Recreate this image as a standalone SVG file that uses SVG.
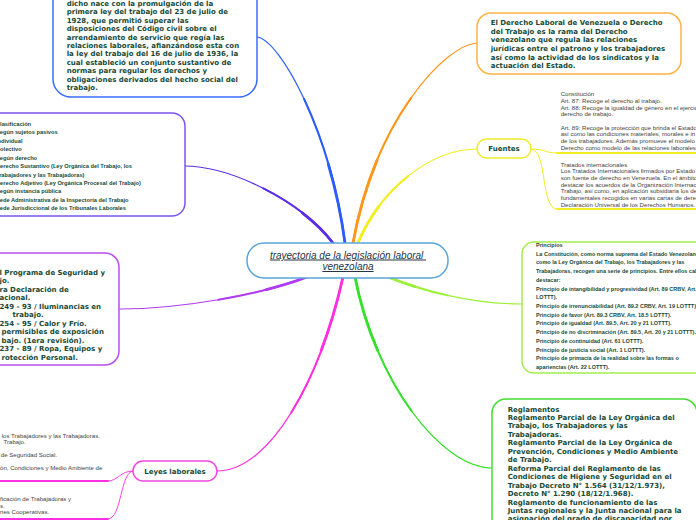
<svg xmlns="http://www.w3.org/2000/svg" width="696" height="520" viewBox="0 0 696 520">
<style>
.b7{font-family:"DejaVu Sans",Verdana,sans-serif;font-weight:bold;font-size:7px;fill:#174a36}
.sb{font-family:"Liberation Sans",Arial,sans-serif;font-weight:bold;font-size:5.5px;fill:#174a36}
.s6{font-family:"Liberation Sans",Arial,sans-serif;font-size:6.1px;fill:#3f3f3f}
.box{fill:#fff;stroke-width:1.5}
.c{fill:none;stroke-linecap:round}
.t1{stroke-width:1.2}.t2{stroke-width:2}.t3{stroke-width:2.8}
</style>
<rect width="696" height="520" fill="#fff"/>
<g id="connectors" class="c">
  <g stroke="#2a5cff">
    <path class="t1" d="M257,37 C280,40 330,130 345,243"/>
    <path class="t2" d="M304,98.75 C321.25,135.75 337.5,186.5 345,243"/>
    <path class="t3" d="M328.16,163.56 C335.31,187.94 341.25,214.75 345,243"/>
  </g>
  <g stroke="#5b2de8">
    <path class="t1" d="M184,166 C230,166 300,200 333,243"/>
    <path class="t2" d="M263.38,188.38 C290.75,202.25 316.5,221.5 333,243"/>
    <path class="t3" d="M302.27,212.83 C314.19,222.06 324.75,232.25 333,243"/>
  </g>
  <g stroke="#ff961c">
    <path class="t1" d="M477,43 C445,45 375,120 353,243"/>
    <path class="t2" d="M411.25,97.63 C387,132 364,181.5 353,243"/>
    <path class="t3" d="M377.16,160.14 C367,184.5 358.5,212.25 353,243"/>
  </g>
  <g stroke="#f2ee22">
    <path class="t1" d="M477,149 C430,149 380,190 358,243"/>
    <path class="t2" d="M408.13,176.13 C387,193 369,216.5 358,243"/>
    <path class="t3" d="M379.27,205.95 C370.75,217.25 363.5,229.75 358,243"/>
    <path stroke-width="1" d="M531,149 C545,149 545,153 557,153"/>
    <path stroke-width="1.8" d="M557,153 L700,153"/>
    <path stroke-width="1" d="M531,149 C548,150 540,209 557,209"/>
    <path stroke-width="1.8" d="M557,209 L700,209"/>
  </g>
  <g stroke="#b03cf0">
    <path class="t1" d="M120,309 C180,309 260,295 307,277"/>
    <path class="t2" d="M218.38,299.75 C251.75,294 283.5,286 307,277"/>
    <path class="t3" d="M266.39,289.59 C281.44,285.75 295.25,281.5 307,277"/>
  </g>
  <g stroke="#ff2ee0">
    <path class="t1" d="M217,471 C270,471 320,380 343,277"/>
    <path class="t2" d="M291.25,412.63 C313.25,377 331.5,328.5 343,277"/>
    <path class="t3" d="M321.06,350.77 C329.81,327.75 337.25,302.75 343,277"/>
    <path stroke-width="0.9" d="M133,471 C120,471 118,481 108,481"/>
    <path stroke-width="1.8" d="M108,481 L-5,481"/>
    <path stroke-width="0.9" d="M133,471 C120,472 122,519 108,519"/>
    <path stroke-width="1.8" d="M108,519 L-5,519"/>
  </g>
  <g stroke="#35e12a">
    <path class="t1" d="M493,468 C440,468 375,380 355,277"/>
    <path class="t2" d="M411.63,411.13 C386.25,376.25 365,328.5 355,277"/>
    <path class="t3" d="M377.55,350.3 C367.81,327.56 360,302.75 355,277"/>
  </g>
  <g stroke="#9cf03a">
    <path class="t1" d="M522,304 C470,304 420,290 388,277"/>
    <path class="t2" d="M447.5,295.38 C424.5,290.25 404,283.5 388,277"/>
    <path class="t3" d="M415.13,286.7 C405.13,283.56 396,280.25 388,277"/>
  </g>
</g>

<g id="center">
  <rect class="box" x="247" y="243" width="201" height="35" rx="17" stroke="#5aa5dc"/>
  <text x="348" y="258.5" text-anchor="middle" font-family="'Liberation Sans',Arial,sans-serif" font-style="italic" font-size="10" fill="#263445" text-decoration="underline" style="white-space:pre">trayectoria de la legislación laboral </text>
  <text x="348" y="270" text-anchor="middle" font-family="'Liberation Sans',Arial,sans-serif" font-style="italic" font-size="10" fill="#263445" text-decoration="underline">venezolana</text>
</g>

<g id="historia">
  <rect class="box" x="53" y="-30" width="204" height="127" rx="18" stroke="#3b6cff"/>
  <text class="b7" x="66.7" y="5.8">dicho nace con la promulgación de la<tspan x="66.7" dy="8.44">primera ley del trabajo del 23 de julio de</tspan><tspan x="66.7" dy="8.44">1928, que permitió superar las</tspan><tspan x="66.7" dy="8.44">disposiciones del Código civil sobre el</tspan><tspan x="66.7" dy="8.44">arrendamiento de servicio que regía las</tspan><tspan x="66.7" dy="8.44">relaciones laborales, afianzándose esta con</tspan><tspan x="66.7" dy="8.44">la ley del trabajo del 16 de julio de 1936, la</tspan><tspan x="66.7" dy="8.44">cual estableció un conjunto sustantivo de</tspan><tspan x="66.7" dy="8.44">normas para regular los derechos y</tspan><tspan x="66.7" dy="8.44">obligaciones derivados del hecho social del</tspan><tspan x="66.7" dy="8.44">trabajo.</tspan></text>
</g>

<g id="clasificacion">
  <rect class="box" x="-20" y="113" width="205" height="103" rx="13" stroke="#7a55f0"/>
  <text class="sb" x="-4" y="126" style="font-size:5.7px">Clasificación<tspan x="-4" dy="8.43">Según sujetos pasivos</tspan><tspan x="-4" dy="8.43">Individual</tspan><tspan x="-4" dy="8.43">Colectivo</tspan><tspan x="-4" dy="8.43">Según derecho</tspan><tspan x="-4" dy="8.43">Derecho Sustantivo (Ley Orgánica del Trabajo, los</tspan><tspan x="-4" dy="8.43">Trabajadores y las Trabajadoras)</tspan><tspan x="-4" dy="8.43">Derecho Adjetivo (Ley Orgánica Procesal del Trabajo)</tspan><tspan x="-4" dy="8.43">Según instancia pública</tspan><tspan x="-4" dy="8.43">Sede Administrativa de la Inspectoría del Trabajo</tspan><tspan x="-4" dy="8.43">Sede Jurisdiccional de los Tribunales Laborales</tspan></text>
</g>

<g id="normas">
  <rect class="box" x="-20" y="253" width="139" height="112" rx="14" stroke="#b84ff0"/>
  <text class="b7" x="-0.5" y="274.8">l Programa de Seguridad y<tspan x="-0.5" dy="8.5">jo.</tspan><tspan x="-0.5" dy="8.5">ra Declaración de</tspan><tspan x="-0.5" dy="8.5">acional.</tspan><tspan x="-0.5" dy="8.5">249 - 93 / Iluminancias en</tspan><tspan x="12.5" dy="8.5">trabajo.</tspan><tspan x="-0.5" dy="8.5">254 - 95 / Calor y Frío.</tspan><tspan x="1.5" dy="8.5">permisibles de exposición</tspan><tspan x="1.5" dy="8.5">bajo. (1era revisión).</tspan><tspan x="-0.5" dy="8.5">237 - 89 / Ropa, Equipos y</tspan><tspan x="1.5" dy="8.5">rotección Personal.</tspan></text>
</g>

<g id="definicion">
  <rect class="box" x="477" y="13" width="204" height="61" rx="14" stroke="#ffb347"/>
  <text class="b7" x="490.7" y="25.2">El Derecho Laboral de Venezuela o Derecho<tspan x="490.7" dy="8.6">del Trabajo es la rama del Derecho</tspan><tspan x="490.7" dy="8.6">venezolano que regula las relaciones</tspan><tspan x="490.7" dy="8.6">jurídicas entre el patrono y los trabajadores</tspan><tspan x="490.7" dy="8.6">así como la actividad de los sindicatos y la</tspan><tspan x="490.7" dy="8.6">actuación del Estado.</tspan></text>
</g>

<g id="fuentes">
  <rect class="box" x="477" y="139" width="54" height="19" rx="9.5" stroke="#f0eb2a"/>
  <text class="b7" x="504" y="151.2" text-anchor="middle">Fuentes</text>
</g>
<g id="constitucion">
  <text class="s6" x="560.7" y="96.2">Constitución<tspan x="560.7" dy="6.67">Art. 87: Recoge el derecho al trabajo.</tspan><tspan x="560.7" dy="6.67">Art. 88: Recoge la igualdad de género en el ejercicio</tspan><tspan x="560.7" dy="6.67">derecho de trabajo.</tspan><tspan x="560.7" dy="13.34">Art. 89: Recoge la protección que brinda el Estado</tspan><tspan x="560.7" dy="6.67">así como las condiciones materiales, morales e in</tspan><tspan x="560.7" dy="6.67">de los trabajadores. Además promueve el modelo</tspan><tspan x="560.7" dy="6.67">Derecho como modelo de las relaciones laborales</tspan></text>
</g>
<g id="tratados">
  <text class="s6" x="560.7" y="166.5">Tratados internacionales<tspan x="560.7" dy="6.67">Los Tratados Internacionales firmados por Estado</tspan><tspan x="560.7" dy="6.67">son fuente de derecho en Venezuela. En el ámbito</tspan><tspan x="560.7" dy="6.67">destacar los acuerdos de la Organización Internacional</tspan><tspan x="560.7" dy="6.67">Trabajo, así como, en aplicación subsidiaria los de</tspan><tspan x="560.7" dy="6.67">fundamentales recogidos en varias cartas de derechos</tspan><tspan x="560.7" dy="6.67">Declaración Universal de los Derechos Humanos.</tspan></text>
</g>

<g id="principios">
  <rect class="box" x="522" y="242" width="190" height="131" rx="12" stroke="#a2ee4a"/>
  <text class="sb" x="536" y="247">Principios<tspan x="536" dy="8.71">La Constitución, como norma suprema del Estado Venezolano,</tspan><tspan x="536" dy="8.71">como la Ley Orgánica del Trabajo, los Trabajadores y las</tspan><tspan x="536" dy="8.71">Trabajadoras, recogen una serie de principios. Entre ellos cabe</tspan><tspan x="536" dy="8.71">destacar:</tspan><tspan x="536" dy="8.71">Principio de intangibilidad y progresividad (Art. 89 CRBV, Art.</tspan><tspan x="536" dy="8.71">LOTTT).</tspan><tspan x="536" dy="8.71">Principio de irrenunciabilidad (Art. 89.2 CRBV, Art. 19 LOTTT).</tspan><tspan x="536" dy="8.71">Principio de favor (Art. 89.3 CRBV, Art. 18.5 LOTTT).</tspan><tspan x="536" dy="8.71">Principio de igualdad (Art. 89.5, Art. 20 y 21 LOTTT).</tspan><tspan x="536" dy="8.71">Principio de no discriminación (Art. 89.5, Art. 20 y 21 LOTTT).</tspan><tspan x="536" dy="8.71">Principio de continuidad (Art. 61 LOTTT).</tspan><tspan x="536" dy="8.71">Principio de justicia social (Art. 1 LOTTT).</tspan><tspan x="536" dy="8.71">Principio de primacía de la realidad sobre las formas o</tspan><tspan x="536" dy="8.71">apariencias (Art. 22 LOTTT).</tspan></text>
</g>

<g id="reglamentos">
  <rect class="box" x="492" y="399" width="205" height="140" rx="14" stroke="#44dd33"/>
  <text class="b7" x="507.7" y="411.5">Reglamentos<tspan x="507.7" dy="8.46">Reglamento Parcial de la Ley Orgánica del</tspan><tspan x="507.7" dy="8.46">Trabajo, los Trabajadores y las</tspan><tspan x="507.7" dy="8.46">Trabajadoras.</tspan><tspan x="507.7" dy="8.46">Reglamento Parcial de la Ley Orgánica de</tspan><tspan x="507.7" dy="8.46">Prevención, Condiciones y Medio Ambiente</tspan><tspan x="507.7" dy="8.46">de Trabajo.</tspan><tspan x="507.7" dy="8.46">Reforma Parcial del Reglamento de las</tspan><tspan x="507.7" dy="8.46">Condiciones de Higiene y Seguridad en el</tspan><tspan x="507.7" dy="8.46">Trabajo Decreto N° 1.564 (31/12/1.973),</tspan><tspan x="507.7" dy="8.46">Decreto N° 1.290 (18/12/1.968).</tspan><tspan x="507.7" dy="8.46">Reglamento de funcionamiento de las</tspan><tspan x="507.7" dy="8.46">Juntas regionales y la Junta nacional para la</tspan><tspan x="507.7" dy="8.46">asignación del grado de discapacidad por</tspan></text>
</g>

<g id="leyes">
  <rect class="box" x="133" y="461" width="84" height="20" rx="10" stroke="#f048e0"/>
  <text class="b7" x="175" y="473.6" text-anchor="middle">Leyes laborales</text>
</g>
<g id="leyes-lista1">
  <text class="s6" x="1.7" y="437.9">los Trabajadores y las Trabajadoras.<tspan x="3.5" dy="6.4">Trabajo.</tspan><tspan x="0.8" dy="12.8">de Seguridad Social.</tspan><tspan x="0" dy="12.8">ón, Condiciones y Medio Ambiente de</tspan></text>
</g>
<g id="leyes-lista2">
  <text class="s6" x="0" y="501.2">ficación de Trabajadoras y<tspan x="0" dy="6.4">s.</tspan><tspan x="0" dy="6.4">nes Cooperativas.</tspan></text>
</g>
</svg>
